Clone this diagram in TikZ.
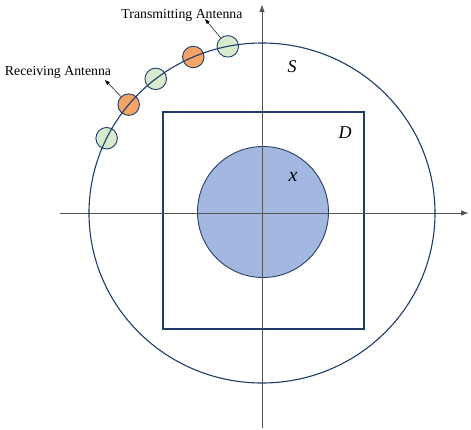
\documentclass[tikz,border=0pt]{standalone}
\usepackage{fontspec}
\setmainfont{Liberation Serif}
\usepackage{tikz}
\usetikzlibrary{arrows.meta,positioning,calc}
\definecolor{ringblue}{HTML}{1F3B6B}
\definecolor{domfill}{HTML}{A2B8E1}
\definecolor{domline}{HTML}{2E3F66}
\definecolor{rxfill}{HTML}{F3A467}
\definecolor{txfill}{HTML}{D8EBCF}
\definecolor{axisgray}{HTML}{555555}
\tikzset{
  antnode/.style={draw=ringblue,circle,line width=0.9pt,minimum size=21.5pt,inner sep=0pt},
  rxnode/.style={antnode,fill=rxfill},
  txnode/.style={antnode,fill=txfill},
  axisline/.style={-{Triangle[length=7pt,width=5pt]},axisgray,line width=0.8pt},
  pointer/.style={-{Triangle[length=5pt,width=3.5pt]},black,line width=0.5pt},
  antlabel/.style={font=\fontsize{13.8}{16}\selectfont,inner sep=1pt},
  setlabel/.style={font=\fontsize{18}{20}\selectfont\itshape,inner sep=0pt}
}
\begin{document}
\begin{tikzpicture}[x=1pt,y=1pt]
  \useasboundingbox (-262,-216) rectangle (209,213);
  \coordinate (O) at (0,0);

  % scatterer and domain
  \node[circle,draw=domline,fill=domfill,line width=0.9pt,minimum size=131pt,inner sep=0pt] (obj) at (1,1) {};
  \draw[ringblue,line width=1.2pt] (-99,-116) rectangle (102,101);

  % axes
  \draw[axisline] (-202,0) -- (206,0);
  \draw[axisline] (0,-215) -- (0,208);

  % antennas on the measurement circle
  \foreach \ang/\kind/\name in {153.9/txnode/a1,140.4/rxnode/a2,127.9/txnode/a3,113.4/rxnode/a4,101.4/txnode/a5}
    \node[\kind] (\name) at ($(O)+(\ang:173pt and 170pt)$) {};
  \draw[ringblue,line width=1.1pt] (O) ellipse (173 and 170);

  % labels
  \node[setlabel] (lblS) at (30,146) {S};
  \node[setlabel] (lblD) at (83,80) {D};
  \node[setlabel,font=\fontsize{20}{22}\selectfont\itshape] (lblx) at (31,36) {x};
  \node[antlabel] (rxlbl) at (-204,141) {Receiving Antenna};
  \node[antlabel] (txlbl) at (-80,198) {Transmitting Antenna};
  \coordinate (rxtip) at (-157,133);
  \coordinate (txtip) at (-57,194);
  \draw[pointer] (a2) -- (rxtip);
  \draw[pointer] (a5) -- (txtip);
\end{tikzpicture}
\end{document}
